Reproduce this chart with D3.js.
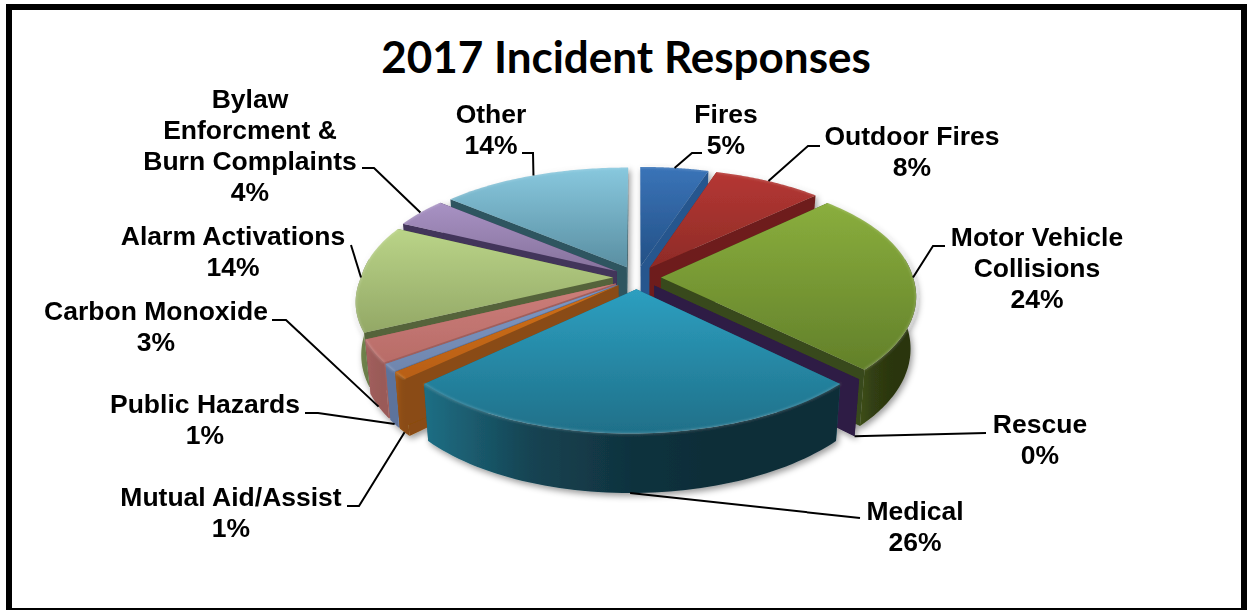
<!DOCTYPE html>
<html>
<head>
<meta charset="utf-8">
<script src="https://cdn.jsdelivr.net/npm/d3@7"></script>
<style>
  html, body { margin: 0; padding: 0; background: #fff; }
  svg { display: block; }
  .lbl { font-family: "Liberation Sans", Arial, sans-serif; font-weight: 700; font-size: 26.5px; fill: #000; text-anchor: middle; }
  .ttl { font-family: Lato, "Open Sans", sans-serif; font-weight: 700; font-size: 44px; fill: #000; text-anchor: middle; }
</style>
</head>
<body>
<svg id="chart" width="1248" height="610"></svg>
<script>
// Incident categories and their percentage share
const categories = ["Fires", "Outdoor Fires", "Motor Vehicle Collisions", "Rescue", "Medical",
  "Mutual Aid/Assist", "Public Hazards", "Carbon Monoxide", "Alarm Activations",
  "Bylaw Enforcment & Burn Complaints", "Other"];
const shares = [5, 8, 24, 0, 26, 1, 1, 3, 14, 4, 14];

// Face colours: top gradient (light, dark), cut wall, rim gradient (left, right)
const topLight = ["#3a74b8", "#b53733", "#8aae3d", "#4a3368", "#2d9fc0", "#d0701a", "#7f98c4", "#cc7e7a", "#bad488", "#a892c4", "#88c8de"];
const topDark  = ["#235086", "#8e2b27", "#62802a", "#3a2850", "#1f7089", "#b85f12", "#6f86ae", "#b86c68", "#93a866", "#86729c", "#5a8fa2"];
const wallFill = ["#25568e", "#6e1f1b", "#39491a", "#2f1e44", "#1a5c70", "#8a4c12", "#5d739c", "#a05f5c", "#55633a", "#43345a", "#2e5560"];
const rimLeft  = ["#25568e", "#7a2420", "#3e4f16", "#2f1e44", "#1f6f85", "#a85a12", "#5d739c", "#a86260", "#7d9155", "#5b4a72", "#2e5560"];
const rimRight = ["#1d4570", "#5c1a17", "#2a3510", "#2f1e44", "#0f2d38", "#8a4c12", "#5d739c", "#9a5a58", "#6a7d48", "#43345a", "#2e5560"];

// Label text lines and the first-line baseline position
const labelLines = [["Fires", "5%"], ["Outdoor Fires", "8%"], ["Motor Vehicle", "Collisions", "24%"], ["Rescue", "0%"],
  ["Medical", "26%"], ["Mutual Aid/Assist", "1%"], ["Public Hazards", "1%"], ["Carbon Monoxide", "3%"],
  ["Alarm Activations", "14%"], ["Bylaw", "Enforcment &", "Burn Complaints", "4%"], ["Other", "14%"]];
const labelAnchor = [[726, 123], [912, 145], [1037, 246], [1040, 433], [915, 520], [231, 506], [205, 413], [156, 320], [233, 245], [250, 108], [491, 123]];

// Leader polylines start at the label and run to the slice rim; bottom marks leaders that reach the lower rim
const leaderPath = [[[702, 153], [692, 153]], [[820, 146], [808, 146]], [[945, 246], [933, 246]], [[986, 433]], [[860, 518]],
  [[347, 506], [359, 506]], [[305, 413], [318, 413]], [[272, 320], [286, 320]], [[351, 245]], [[362, 168], [374, 168]], [[522, 153], [533, 153]]];
const leaderBottom = [false, false, false, true, true, true, true, true, false, false, false];
const leaderSpot = [0.5, 0.5, 0.5, 0, 0.5, 0.5, 0.5, 0.5, 0.5, 0.5, 0.5];

const svg = d3.select("#chart");
const defs = svg.append("defs");
const tau = 2 * Math.PI;

// Pie geometry on a tilted disc seen in perspective; the near half spreads and leans slightly left
const cx = 637, cy = 277.5, radius = 252, explode = 24, squash = 0.483, perspY = 0.155, perspXFar = 0.12, perspXNear = 0.17, lean = 0.025, depth = 51, taper = 0.02;
const project = (x, y, z) => {
  const kx = 1 + (y < 0 ? perspXFar : perspXNear) * y / radius, ky = 1 + perspY * y / radius;
  const shift = y > 0 ? -lean * y : 0;
  return [cx + shift + x * kx * (1 - taper * z), cy + y * squash * ky + z * depth * ky];
};

const arcs = d3.pie().sort(null).startAngle(0).endAngle(tau)(shares);
const slices = arcs.map((a, i) => {
  const mid = (a.startAngle + a.endAngle) / 2;
  return { i, a0: a.startAngle, a1: a.endAngle, mid, ox: explode * Math.sin(mid), oy: -explode * Math.cos(mid) };
});
const rimPoint = (s, ang, z) => project(s.ox + radius * Math.sin(ang), s.oy - radius * Math.cos(ang), z);
const apex = (s, z) => project(s.ox, s.oy, z);
const rimSamples = (a0, a1) => d3.range(0, 61).map(t => a0 + (a1 - a0) * t / 60);
const line = d3.line();

// Gradients per slice
slices.forEach(s => {
  const g = defs.append("linearGradient").attr("id", "top" + s.i).attr("x1", 0).attr("y1", 0).attr("x2", 0).attr("y2", 1);
  g.append("stop").attr("offset", 0).attr("stop-color", topLight[s.i]);
  g.append("stop").attr("offset", 1).attr("stop-color", topDark[s.i]);
  const r = defs.append("linearGradient").attr("id", "rim" + s.i).attr("x1", 0).attr("y1", 0).attr("x2", 1).attr("y2", 0);
  const mix = d3.interpolateRgb(rimLeft[s.i], rimRight[s.i]);
  [[0, 0], [0.25, 0.65], [0.5, 0.92], [0.7, 1], [1, 1]].forEach(([o, t]) =>
    r.append("stop").attr("offset", o).attr("stop-color", mix(t)));
});
const shadow = defs.append("filter").attr("id", "pieShadow").attr("x", "-5%").attr("y", "-5%").attr("width", "110%").attr("height", "115%");
shadow.append("feDropShadow").attr("dx", 2).attr("dy", 3).attr("stdDeviation", 3).attr("flood-color", "#000").attr("flood-opacity", 0.4);
defs.append("filter").attr("id", "soft").append("feGaussianBlur").attr("stdDeviation", 0.8);

// Frame, running off the bottom edge of the page
svg.append("rect").attr("x", 9).attr("y", 7).attr("width", 1235).attr("height", 604)
  .attr("fill", "#fff").attr("stroke", "#000").attr("stroke-width", 6);

svg.append("text").attr("class", "ttl").attr("x", 626).attr("y", 73).text("2017 Incident Responses");

// Slices, painted from the far side of the disc to the near side
const pie = svg.append("g").attr("filter", "url(#pieShadow)");
const order = slices.slice().sort((a, b) => Math.cos(b.mid) - Math.cos(a.mid));
order.forEach(s => {
  const g = pie.append("g");
  const wall = ang => [apex(s, 0), rimPoint(s, ang, 0), rimPoint(s, ang, 1), apex(s, 1)];
  [s.a0, s.a1].forEach(ang => g.append("path").attr("d", line(wall(ang)) + "Z").attr("fill", wallFill[s.i]));
  // Outer rim only where it faces the viewer
  const f0 = Math.max(s.a0, Math.PI / 2 * 0.9), f1 = Math.min(s.a1, Math.PI * 1.55);
  if (f1 > f0) {
    const t = rimSamples(f0, f1);
    const pts = t.map(a => rimPoint(s, a, 0)).concat(t.slice().reverse().map(a => rimPoint(s, a, 1)));
    g.append("path").attr("d", line(pts) + "Z").attr("fill", `url(#rim${s.i})`);
  }
  if (s.a1 > s.a0) {
    const t = rimSamples(s.a0, s.a1);
    const pts = [apex(s, 0)].concat(t.map(a => rimPoint(s, a, 0)));
    g.append("path").attr("d", line(pts) + "Z").attr("fill", `url(#top${s.i})`);
    g.append("path").attr("d", line(t.map(a => rimPoint(s, a, 0))))
      .attr("fill", "none").attr("stroke", "#fff").attr("stroke-opacity", 0.2).attr("stroke-width", 2).attr("filter", "url(#soft)");
  }
});

// Leader lines
slices.forEach(s => {
  const ang = s.a0 + (s.a1 - s.a0) * leaderSpot[s.i];
  const end = rimPoint(s, ang, leaderBottom[s.i] ? 1 : 0);
  svg.append("path").attr("d", line(leaderPath[s.i].concat([end]))).attr("fill", "none").attr("stroke", "#000").attr("stroke-width", 2);
});

// Category labels
labelLines.forEach((lines, i) => {
  const t = svg.append("text").attr("class", "lbl");
  lines.forEach((l, j) => t.append("tspan").attr("x", labelAnchor[i][0]).attr("y", labelAnchor[i][1] + j * 31).text(l));
});
</script>
</body>
</html>
